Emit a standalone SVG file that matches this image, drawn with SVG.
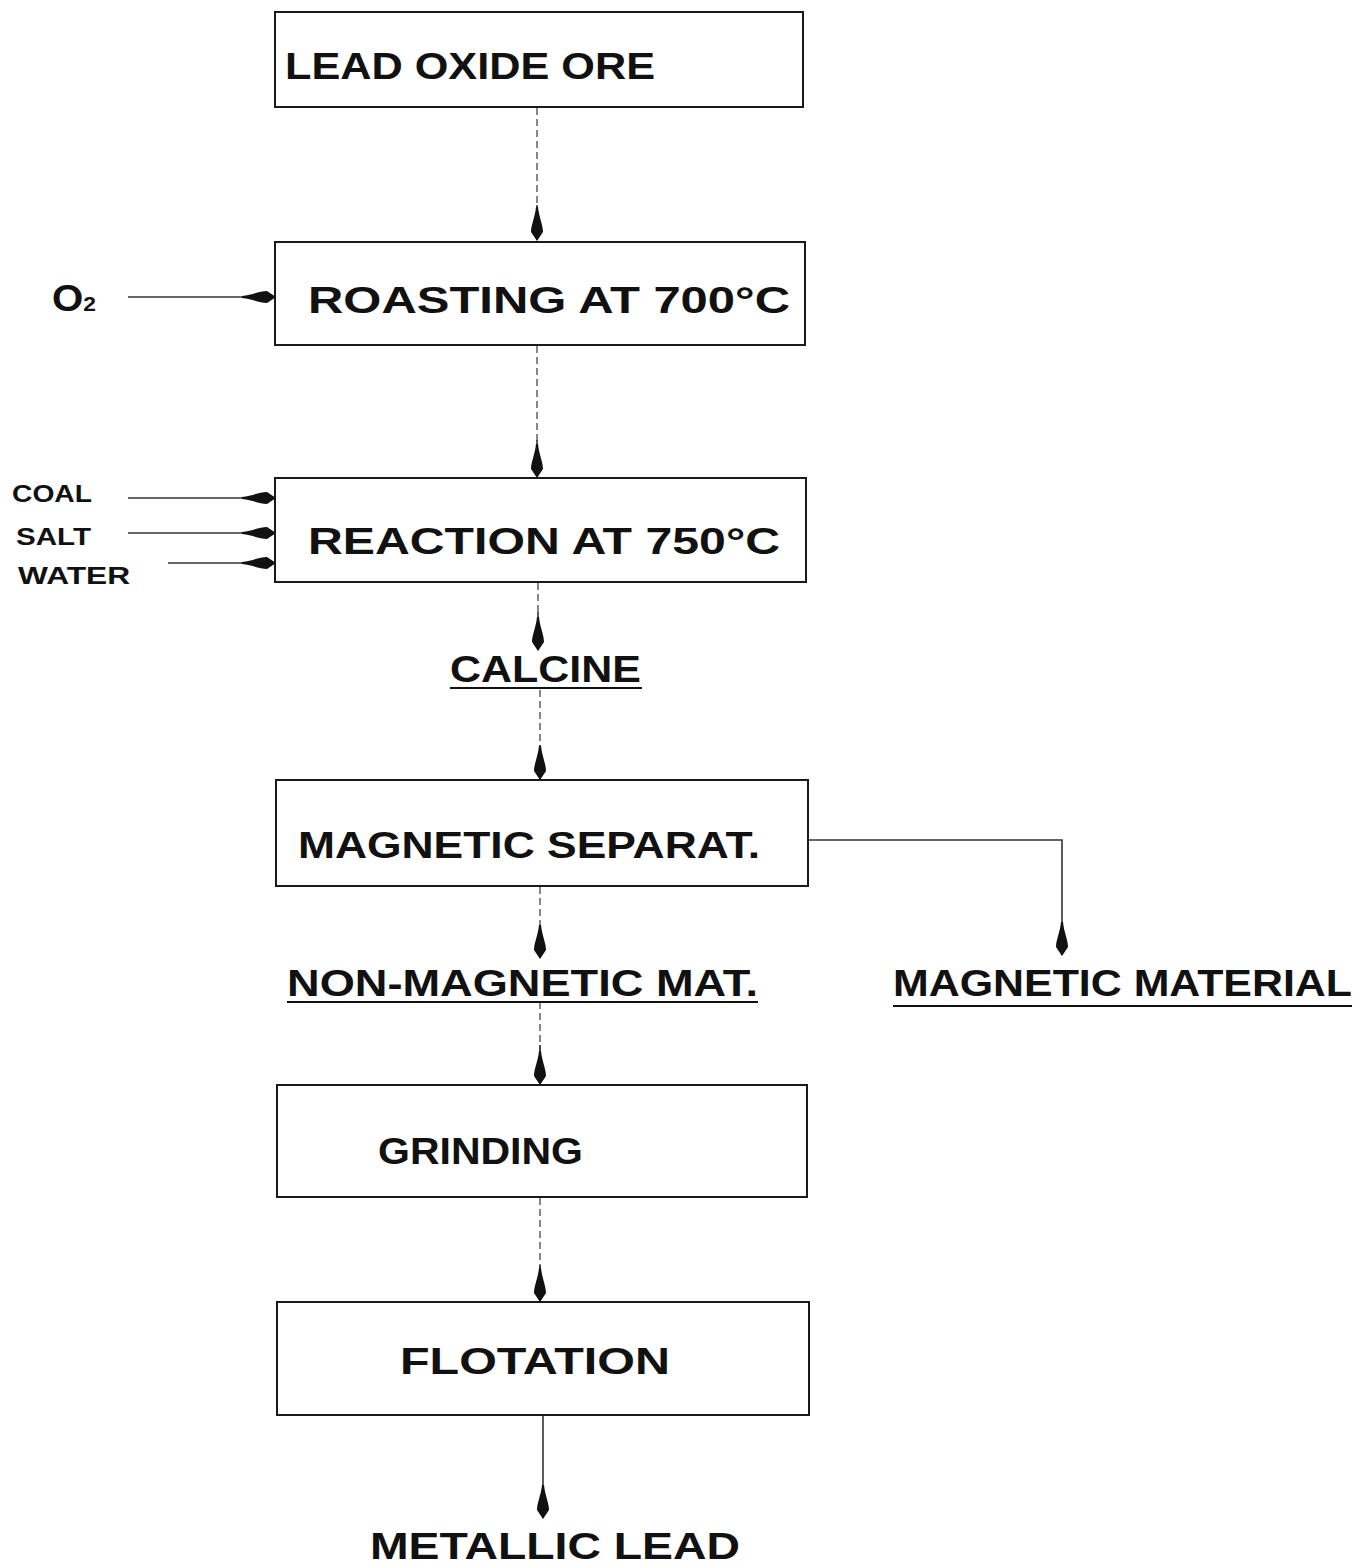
<svg xmlns="http://www.w3.org/2000/svg" width="1370" height="1568" viewBox="0 0 1370 1568">
<style>
.box{fill:none;stroke:#1a1a1a;stroke-width:2}
.lbl{font-family:"Liberation Sans",Arial,sans-serif;font-weight:bold;fill:#111;font-size:37px}
.sm{font-family:"Liberation Sans",Arial,sans-serif;font-weight:900;fill:#111;font-size:23px}
.conn{fill:none;stroke:#333;stroke-width:1.6}
.dot{fill:none;stroke:#555;stroke-width:1.4;stroke-dasharray:7 4}
.ul{stroke:#111;stroke-width:2}
</style>
<defs>
<marker id="ah" markerUnits="userSpaceOnUse" markerWidth="34" markerHeight="16" viewBox="0 0 34 16" refX="33" refY="8" orient="auto">
<path d="M0,7 C10,6 18,2 25,2 L34,8 L25,14 C18,14 10,10 0,9 Z" fill="#111"/>
</marker>
</defs>
<rect width="1370" height="1568" fill="#fff"/>

<g id="connectors">
<line class="dot" x1="537" y1="108" x2="537" y2="208"/>
<line class="conn" x1="537" y1="205" x2="537" y2="240" marker-end="url(#ah)"/>
<line class="dot" x1="537" y1="346" x2="537" y2="445"/>
<line class="conn" x1="537" y1="440" x2="537" y2="477" marker-end="url(#ah)"/>
<line class="dot" x1="538" y1="583" x2="538" y2="615"/>
<line class="conn" x1="538" y1="612" x2="538" y2="650" marker-end="url(#ah)"/>
<line class="dot" x1="540" y1="690" x2="540" y2="748"/>
<line class="conn" x1="540" y1="745" x2="540" y2="779" marker-end="url(#ah)"/>
<line class="dot" x1="540" y1="887" x2="540" y2="930"/>
<line class="conn" x1="540" y1="928" x2="540" y2="958" marker-end="url(#ah)"/>
<line class="dot" x1="540" y1="1002" x2="540" y2="1050"/>
<line class="conn" x1="540" y1="1045" x2="540" y2="1084" marker-end="url(#ah)"/>
<line class="dot" x1="540" y1="1198" x2="540" y2="1270"/>
<line class="conn" x1="540" y1="1265" x2="540" y2="1301" marker-end="url(#ah)"/>
<line class="conn" x1="543" y1="1416" x2="543" y2="1518" marker-end="url(#ah)"/>
<polyline class="conn" points="809,840 1062,840 1062,955" marker-end="url(#ah)"/>
<line class="conn" x1="128" y1="297" x2="275" y2="297" marker-end="url(#ah)"/>
<line class="conn" x1="128" y1="498" x2="275" y2="498" marker-end="url(#ah)"/>
<line class="conn" x1="128" y1="533" x2="275" y2="533" marker-end="url(#ah)"/>
<line class="conn" x1="168" y1="563" x2="275" y2="563" marker-end="url(#ah)"/>
</g>

<g id="lead-oxide-ore">
<rect class="box" x="275" y="12" width="528" height="95"/>
<text class="lbl" x="285" y="79" textLength="370" lengthAdjust="spacingAndGlyphs">LEAD OXIDE ORE</text>
</g>
<g id="roasting">
<rect class="box" x="275" y="242" width="530" height="103"/>
<text class="lbl" x="308" y="313" textLength="482" lengthAdjust="spacingAndGlyphs">ROASTING AT 700°C</text>
</g>
<g id="o2">
<text class="lbl" x="52" y="311" font-size="32" textLength="44" lengthAdjust="spacingAndGlyphs">O<tspan font-size="21">2</tspan></text>
</g>
<g id="reaction">
<rect class="box" x="275" y="478" width="531" height="104"/>
<text class="lbl" x="308" y="554" textLength="472" lengthAdjust="spacingAndGlyphs">REACTION AT 750°C</text>
</g>
<g id="coal"><text class="sm" x="12" y="502" textLength="80" lengthAdjust="spacingAndGlyphs">COAL</text></g>
<g id="salt"><text class="sm" x="16" y="545" textLength="75" lengthAdjust="spacingAndGlyphs">SALT</text></g>
<g id="water"><text class="sm" x="18" y="584" textLength="112" lengthAdjust="spacingAndGlyphs">WATER</text></g>
<g id="calcine">
<text class="lbl" x="450" y="682" textLength="191" lengthAdjust="spacingAndGlyphs">CALCINE</text>
<line class="ul" x1="450" y1="688" x2="642" y2="688"/>
</g>
<g id="magnetic-separat">
<rect class="box" x="276" y="780" width="532" height="106"/>
<text class="lbl" x="298" y="858" textLength="462" lengthAdjust="spacingAndGlyphs">MAGNETIC SEPARAT.</text>
</g>
<g id="non-magnetic-mat">
<text class="lbl" x="287" y="996" textLength="471" lengthAdjust="spacingAndGlyphs">NON-MAGNETIC MAT.</text>
<line class="ul" x1="287" y1="1002" x2="758" y2="1002"/>
</g>
<g id="magnetic-material">
<text class="lbl" x="893" y="996" textLength="459" lengthAdjust="spacingAndGlyphs">MAGNETIC MATERIAL</text>
<line class="ul" x1="893" y1="1006" x2="1352" y2="1006"/>
</g>
<g id="grinding">
<rect class="box" x="277" y="1085" width="530" height="112"/>
<text class="lbl" x="378" y="1164" textLength="205" lengthAdjust="spacingAndGlyphs">GRINDING</text>
</g>
<g id="flotation">
<rect class="box" x="277" y="1302" width="532" height="113"/>
<text class="lbl" x="400" y="1374" textLength="270" lengthAdjust="spacingAndGlyphs">FLOTATION</text>
</g>
<g id="metallic-lead">
<text class="lbl" x="370" y="1559" textLength="370" lengthAdjust="spacingAndGlyphs">METALLIC LEAD</text>
</g>
</svg>
